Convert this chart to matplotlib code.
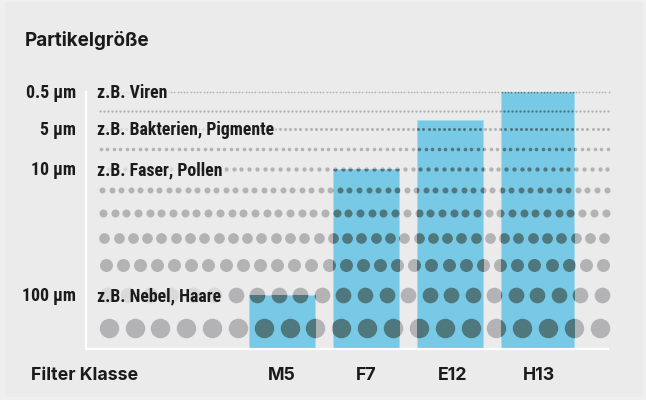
import matplotlib
matplotlib.use('Agg')
import matplotlib.pyplot as plt
from matplotlib import font_manager
from matplotlib.patches import Rectangle
import numpy as np

# particle size rows, bottom to top (height above the base line)
row_heights = [20.7, 54, 84, 110.7, 135.7, 158.7, 180, 200.3, 219.7, 238.3, 257]
dot_diameters = [19.5, 15.7, 13.0, 10.7, 8.0, 6.0, 4.3, 3.6, 3.0, 2.3, 1.8]
dot_counts = [20, 24, 30, 36, 44, 54, 66, 79, 100, 128, 158]

size_labels = ['0.5 µm', '5 µm', '10 µm', '100 µm']
size_examples = ['z.B. Viren', 'z.B. Bakterien, Pigmente', 'z.B. Faser, Pollen', 'z.B. Nebel, Haare']
size_rows = [10, 8, 6, 1]

filter_classes = ['M5', 'F7', 'E12', 'H13']
filter_heights = [54, 180, 229, 257]

BG = '#ebebeb'
BAR = '#78c9e6'
DOT = '#b3b3b5'
DOT_DARK = '#4e777e'
INK = '#1b1b1b'


def pick_font(names):
    avail = {f.name for f in font_manager.fontManager.ttflist}
    for n in names:
        if n in avail:
            return n
    return 'DejaVu Sans'


narrow = pick_font(['Roboto Condensed', 'Liberation Sans Narrow', 'Roboto', 'Liberation Sans'])
grotesk = pick_font(['Inter', 'Roboto', 'Liberation Sans'])

W, H = 646, 400
fig = plt.figure(figsize=(W / 100, H / 100), dpi=100)
fig.patch.set_facecolor('#efefef')
fig.patches.append(Rectangle((5 / W, 3 / H), 638 / W, 395 / H, transform=fig.transFigure,
                             facecolor=BG, edgecolor='none', zorder=-10))

# plot area: x in pixels from the left spine, y in pixels above the base line
ax = fig.add_axes([86 / W, 51 / H, 522 / W, 257 / H])
ax.set_facecolor('none')
ax.set_xlim(0, 522)
ax.set_ylim(0, 257)
for s in ['top', 'right']:
    ax.spines[s].set_visible(False)
for s in ['left', 'bottom']:
    ax.spines[s].set_color('white')
    ax.spines[s].set_linewidth(1.6)
    ax.spines[s].set_zorder(6)
ax.set_xticks([])
ax.set_yticks([])

# bars
pitch = 84
first_left = 163
widths = [66, 66, 66, 73]
lefts = [first_left + pitch * i for i in range(len(filter_classes))]
bars = ax.bar(lefts, filter_heights, width=widths, align='edge', color=BAR,
              edgecolor='#a4dcf0', linewidth=0.6, zorder=2)

# dot rows: grey everywhere, dark where they sit on a bar
x0, x1 = 13, 523.5
for y, d, n in zip(row_heights, dot_diameters, dot_counts):
    xs = np.linspace(x0 + d / 2, x1 - d / 2, n)
    ys = np.full(n, y)
    s = (d * 0.72) ** 2
    ax.scatter(xs, ys, s=s, color=DOT, linewidths=0, zorder=1, clip_on=False)
    for b in bars:
        sc = ax.scatter(xs, ys, s=s, color=DOT_DARK, linewidths=0, zorder=3)
        sc.set_clip_path(b)

# size labels
for lab, ex, r in zip(size_labels, size_examples, size_rows):
    y = row_heights[r] - 6
    ax.text(-10, y, lab, ha='right', va='baseline', fontsize=12.8, fontweight='bold',
            family=narrow, color=INK, clip_on=False)
    ax.text(11, y, ex, ha='left', va='baseline', fontsize=12.8, fontweight='bold',
            family=narrow, color=INK, zorder=5, clip_on=False,
            bbox=dict(facecolor=BG, edgecolor='none', alpha=0.7, pad=1.5))

# class labels under the bars
label_nudge = [0, 0, 3, 1.5]
for l, w, dx, name in zip(lefts, widths, label_nudge, filter_classes):
    ax.text(l + w / 2 + dx, -27, name, ha='center', va='center', fontsize=12.8,
            fontweight='bold', family=grotesk, color=INK, clip_on=False)
ax.text(-55, -27, 'Filter Klasse', ha='left', va='center', fontsize=12.8,
        fontweight='bold', family=grotesk, color=INK, clip_on=False)

fig.text(25 / W, 1 - 40 / H, 'Partikelgröße', ha='left', va='center', fontsize=13.6,
         fontweight='bold', family=grotesk, color=INK)

fig.savefig('out.png', dpi=100, facecolor=fig.get_facecolor())
